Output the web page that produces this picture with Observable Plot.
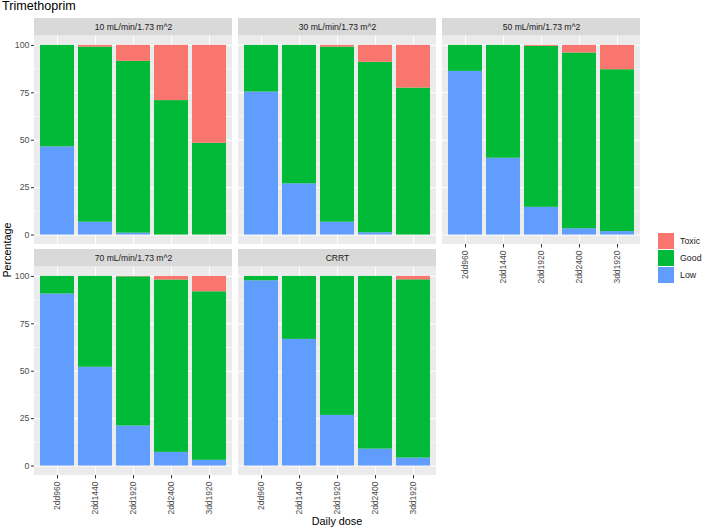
<!DOCTYPE html>
<html><head><meta charset="utf-8">
<script src="https://cdn.jsdelivr.net/npm/d3@7"></script>
<script src="https://cdn.jsdelivr.net/npm/@observablehq/plot@0.6"></script>
<style>
body{margin:0;background:#fff;font-family:"Liberation Sans",Arial,sans-serif;}
#wrap{position:relative;width:709px;height:528px;overflow:hidden;}
#wrap svg{position:absolute;left:0;top:0;}
.ov{position:absolute;white-space:nowrap;color:#000;line-height:1;}
.sw{position:absolute;width:16px;height:16px;}
.lg{position:absolute;font-size:8.8px;line-height:1;color:#1A1A1A;}
</style></head><body><div id="wrap"></div>
<script>
const panels = ["10 mL/min/1.73 m^2","30 mL/min/1.73 m^2","50 mL/min/1.73 m^2","70 mL/min/1.73 m^2","CRRT"];
const doses = ["2dd960","2dd1440","2dd1920","2dd2400","3dd1920"];
const categories = ["Low","Good","Toxic"];
const colors = ["#619CFF","#00BA38","#F8766D"];
const legendOrder = ["Toxic","Good","Low"];
const lowPct = [
  [46.5, 6.8, 1.0, 0, 0],
  [75.4, 27.0, 6.8, 1.2, 0],
  [86.3, 40.5, 14.6, 3.3, 1.8],
  [90.7, 52.1, 21.1, 7.2, 3.0],
  [97.7, 66.8, 26.7, 8.9, 4.2]
];
const goodPct = [
  [53.5, 92.3, 90.6, 70.9, 48.4],
  [24.6, 73.0, 92.3, 89.9, 77.5],
  [13.7, 59.5, 84.9, 92.7, 85.4],
  [9.3, 47.9, 78.7, 90.9, 88.9],
  [2.3, 33.2, 73.3, 91.1, 94.0]
];
const toxicPct = [
  [0, 0.9, 8.4, 29.1, 51.6],
  [0, 0, 0.9, 8.9, 22.5],
  [0, 0, 0.5, 4.0, 12.8],
  [0, 0, 0.2, 1.9, 8.1],
  [0, 0, 0, 0, 1.8]
];
const yTicks = [0, 25, 50, 75, 100];
const yMinor = [12.5, 37.5, 62.5, 87.5];
const titleText = "Trimethoprim";
const xTitle = "Daily dose";
const yTitle = "Percentage";

const NCOL = 3;
const panelRows = panels.map((name, i) => ({name, col: i % NCOL, row: Math.floor(i / NCOL)}));
const series = [lowPct, goodPct, toxicPct];
const rows = [];
panelRows.forEach((p, i) => doses.forEach((d, j) => categories.forEach((c, k) =>
  rows.push({col: p.col, row: p.row, dose: d, category: c, value: series[k][i][j]}))));
const majorRows = panelRows.flatMap(p => yTicks.map(v => ({col: p.col, row: p.row, v})));
const minorRows = panelRows.flatMap(p => yMinor.map(v => ({col: p.col, row: p.row, v})));
const vRows = panelRows.flatMap(p => doses.map(d => ({col: p.col, row: p.row, dose: d})));

const chart = Plot.plot({
  width: 709, height: 528,
  marginTop: 17, marginBottom: 53, marginLeft: 33, marginRight: 68,
  style: {fontFamily: "Liberation Sans, Arial, sans-serif", background: "transparent", overflow: "visible"},
  fx: {domain: [0, 1, 2], axis: null, paddingInner: 0.027, paddingOuter: 0},
  fy: {domain: [0, 1], axis: null, paddingInner: 0.022, paddingOuter: 0},
  x: {domain: doses, paddingInner: 0.1, paddingOuter: 0.15},
  y: {domain: [-5, 114.2]},
  color: {domain: categories, range: colors},
  marks: [
    Plot.barY(panelRows, {fx: "col", fy: "row", y1: -5, y2: 105, fill: "#EBEBEB"}),
    Plot.barY(panelRows, {fx: "col", fy: "row", y1: 105, y2: 114.2, fill: "#D9D9D9"}),
    Plot.ruleY(minorRows, {fx: "col", fy: "row", y: "v", stroke: "#fff", strokeWidth: 0.55}),
    Plot.ruleY(majorRows, {fx: "col", fy: "row", y: "v", stroke: "#fff", strokeWidth: 1.1}),
    Plot.ruleX(vRows, {fx: "col", fy: "row", x: "dose", y1: -5, y2: 105, stroke: "#fff", strokeWidth: 1.1}),
    Plot.barY(rows, {fx: "col", fy: "row", x: "dose", y: "value", fill: "category"}),
    Plot.text(panelRows, {fx: "col", fy: "row", y: 109.6, text: "name", fontSize: 8.6, fill: "#1A1A1A"}),
    Plot.axisY(yTicks, {anchor: "left", tickSize: 3, tickPadding: 2, fontSize: 8.8, fill: "#4D4D4D", stroke: "#333", label: null}),
    Plot.axisX({anchor: "bottom", facetAnchor: "bottom-empty", tickRotate: -90, tickSize: 3.5, tickPadding: 2.5, fontSize: 8.5, fill: "#4D4D4D", stroke: "#333", label: null})
  ]
});

const wrap = document.getElementById("wrap");
wrap.appendChild(chart);

function ov(text, css) {
  const d = document.createElement("div");
  d.className = "ov";
  d.textContent = text;
  Object.assign(d.style, css);
  wrap.appendChild(d);
  return d;
}
ov(titleText, {left: "2px", top: "0px", fontSize: "12.6px"});
ov(xTitle, {left: "337px", top: "516px", fontSize: "10.8px", transform: "translateX(-50%)"});
ov(yTitle, {left: "7px", top: "250px", fontSize: "10.8px", transform: "translate(-50%,-50%) rotate(-90deg)"});

const cmap = Object.fromEntries(categories.map((c, i) => [c, colors[i]]));
legendOrder.forEach((c, i) => {
  const s = document.createElement("div");
  s.className = "sw";
  Object.assign(s.style, {left: "658px", top: (233 + i * 17) + "px", background: cmap[c]});
  wrap.appendChild(s);
  const l = document.createElement("div");
  l.className = "lg";
  l.textContent = c;
  Object.assign(l.style, {left: "680px", top: (236.5 + i * 17) + "px"});
  wrap.appendChild(l);
});
</script></body></html>
